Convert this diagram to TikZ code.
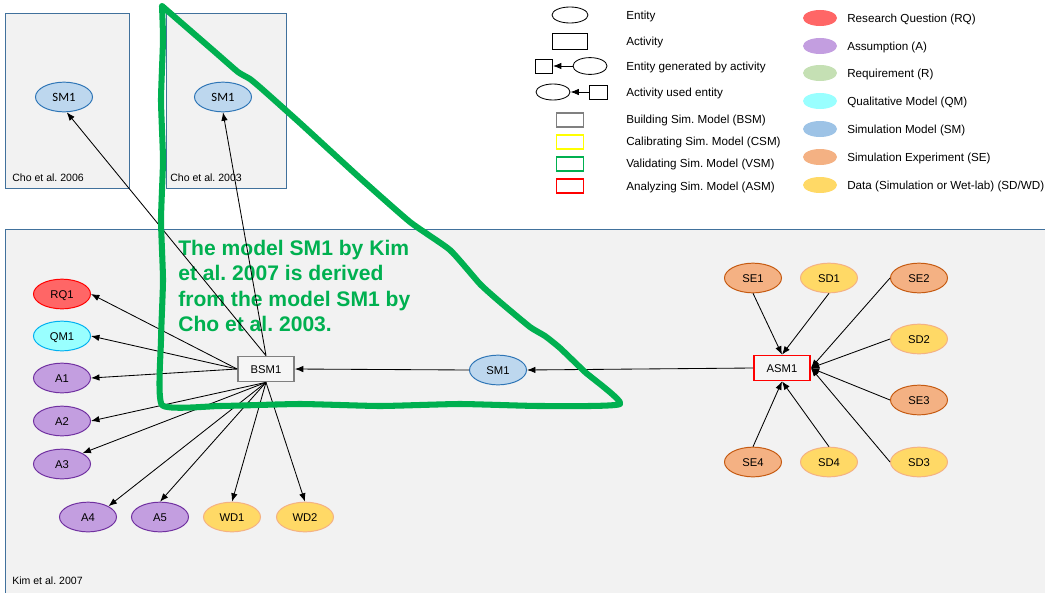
\documentclass[tikz,border=0pt]{standalone}
\usepackage{fontspec}
\setmainfont{Liberation Sans}
\newfontfamily\calibrifont{Carlito}
\usetikzlibrary{shapes.geometric,arrows.meta}

\tikzset{
    panel/.style={draw={rgb,255:red,65;green,113;blue,156}, fill={rgb,255:red,242;green,242;blue,242}, line width=0.6pt},
    paneltxt/.style={anchor=west, inner sep=0pt, text height=5.5pt, text depth=0pt, font=\fontsize{7.5}{9}\selectfont},
    lgtxt/.style={anchor=west, inner sep=0pt, text height=6pt, text depth=0pt, font=\fontsize{8.3}{10}\selectfont},
    lgent/.style={ellipse, draw, line width=0.6pt, fill=white, minimum width=0.9cm, minimum height=0.4cm, inner sep=0pt},
    lgact/.style={rectangle, draw, line width=0.6pt, fill=white, minimum width=0.875cm, minimum height=0.4cm, inner sep=0pt},
    lgkind/.style={rectangle, draw, line width=1.2pt, fill=white, minimum width=0.675cm, minimum height=0.35cm, inner sep=0pt},
    lgcol/.style={ellipse, minimum width=0.85cm, minimum height=0.4cm, inner sep=0pt},
    ent/.style={ellipse, draw, line width=0.7pt, minimum width=1.425cm, minimum height=0.74cm, inner sep=0pt, text height=5.8pt, text depth=0pt, font=\fontsize{8}{9}\selectfont},
    rqnode/.style={ent, draw={rgb,255:red,255;green,0;blue,0}, fill={rgb,255:red,255;green,102;blue,102}},
    qmnode/.style={ent, draw={rgb,255:red,0;green,176;blue,240}, fill={rgb,255:red,153;green,255;blue,255}},
    anode/.style={ent, draw={rgb,255:red,112;green,48;blue,160}, fill={rgb,255:red,195;green,158;blue,224}},
    smnode/.style={ent, draw={rgb,255:red,46;green,117;blue,182}, fill={rgb,255:red,189;green,215;blue,238}},
    senode/.style={ent, draw={rgb,255:red,197;green,90;blue,17}, fill={rgb,255:red,244;green,177;blue,131}},
    sdnode/.style={ent, draw={rgb,255:red,244;green,177;blue,131}, fill={rgb,255:red,255;green,217;blue,102}},
    actbox/.style={rectangle, draw, line width=1.2pt, fill={rgb,255:red,245;green,245;blue,245}, minimum width=1.4cm, minimum height=0.625cm, inner sep=0pt, text height=5.8pt, text depth=0pt, font=\fontsize{8}{9}\selectfont},
    dep/.style={-{Latex[length=6pt,width=4.6pt]}, line width=0.6pt},
    gline/.style={draw={rgb,255:red,0;green,176;blue,80}, line width=4.3pt, line join=round, line cap=round}
}

\begin{document}
\frenchspacing
\begin{tikzpicture}[x=0.025cm, y=-0.025cm]
    \useasboundingbox (0,0) rectangle (1045,592);

    %panels
    \draw[panel] (5,13) rectangle (129,188);
    \draw[panel] (166,13) rectangle (286,188);
    \draw[panel] (5,229) rectangle (1060,610);
    \node[paneltxt] (lCho6) at (12,178) {Cho et al. 2006};
    \node[paneltxt] (lCho3) at (170,178) {Cho et al. 2003};
    \node[paneltxt] (lKim) at (12,581) {Kim et al. 2007};

    %legend, left
    \node[lgent] (lgEnt) at (570,15) {};
    \node[lgact] (lgAct) at (570,41) {};
    \node[lgact, minimum width=0.425cm, minimum height=0.35cm] (lgGenAct) at (544,66) {};
    \node[lgent, minimum width=0.85cm, minimum height=0.42cm] (lgGenEnt) at (590,66) {};
    \draw[dep] (lgGenEnt) -- (lgGenAct);
    \node[lgent, minimum width=0.85cm] (lgUseEnt) at (553,92) {};
    \node[lgact, minimum width=0.45cm, minimum height=0.35cm] (lgUseAct) at (598,92) {};
    \draw[dep] (lgUseAct) -- (lgUseEnt);
    \node[lgkind, draw={rgb,255:red,128;green,128;blue,128}] (lgBSM) at (570,120) {};
    \node[lgkind, draw={rgb,255:red,255;green,255;blue,0}] (lgCSM) at (570,142) {};
    \node[lgkind, draw={rgb,255:red,0;green,176;blue,80}] (lgVSM) at (570,164) {};
    \node[lgkind, draw={rgb,255:red,255;green,0;blue,0}] (lgASM) at (570,186) {};
    \node[lgtxt] (tEnt) at (626,15) {Entity};
    \node[lgtxt] (tAct) at (626,41) {Activity};
    \node[lgtxt] (tGen) at (626,66) {Entity generated by activity};
    \node[lgtxt] (tUse) at (626,92) {Activity used entity};
    \node[lgtxt] (tBSM) at (626,119) {Building Sim. Model (BSM)};
    \node[lgtxt] (tCSM) at (626,141) {Calibrating Sim. Model (CSM)};
    \node[lgtxt] (tVSM) at (626,163) {Validating Sim. Model (VSM)};
    \node[lgtxt] (tASM) at (626,186) {Analyzing Sim. Model (ASM)};

    %legend, right
    \node[lgcol, fill={rgb,255:red,255;green,102;blue,102}] (lgRQ) at (820,18) {};
    \node[lgcol, fill={rgb,255:red,195;green,158;blue,224}] (lgA) at (820,46) {};
    \node[lgcol, fill={rgb,255:red,197;green,224;blue,180}] (lgR) at (820,73) {};
    \node[lgcol, fill={rgb,255:red,153;green,255;blue,255}] (lgQM) at (820,101) {};
    \node[lgcol, fill={rgb,255:red,157;green,195;blue,230}] (lgSM) at (820,129) {};
    \node[lgcol, fill={rgb,255:red,244;green,177;blue,131}] (lgSE) at (820,157) {};
    \node[lgcol, fill={rgb,255:red,255;green,217;blue,102}] (lgSD) at (820,185) {};
    \node[lgtxt] (tRQ) at (847,18) {Research Question (RQ)};
    \node[lgtxt] (tA) at (847,46) {Assumption (A)};
    \node[lgtxt] (tR) at (847,73) {Requirement (R)};
    \node[lgtxt] (tQM) at (847,101) {Qualitative Model (QM)};
    \node[lgtxt] (tSM) at (847,129) {Simulation Model (SM)};
    \node[lgtxt] (tSE) at (847,157) {Simulation Experiment (SE)};
    \node[lgtxt] (tSD) at (847,185) {Data (Simulation or Wet-lab) (SD/WD)};

    %note
    \node[anchor=north west, inner sep=0pt, align=left, text={rgb,255:red,0;green,176;blue,80}, font=\fontsize{15}{18}\selectfont\bfseries] (note) at (178,240)
        {The model SM1 by Kim\\et al. 2007 is derived\\from the model SM1 by\\Cho et al. 2003.};

    %Cho et al.
    \node[smnode, font=\calibrifont\fontsize{9}{10}\selectfont] (choSMa) at (64,97) {SM1};
    \node[smnode, font=\calibrifont\fontsize{9}{10}\selectfont] (choSMb) at (223,97) {SM1};

    %Kim et al. 2007, building
    \node[rqnode] (RQ1) at (62,294) {RQ1};
    \node[qmnode] (QM1) at (62,336) {QM1};
    \node[anode] (A1) at (62,378) {A1};
    \node[anode] (A2) at (62,421) {A2};
    \node[anode] (A3) at (62,464) {A3};
    \node[anode] (A4) at (88,517) {A4};
    \node[anode] (A5) at (160,517) {A5};
    \node[sdnode] (WD1) at (232,517) {WD1};
    \node[sdnode] (WD2) at (305,517) {WD2};
    \node[actbox, draw={rgb,255:red,128;green,128;blue,128}] (BSM1) at (266,369) {BSM1};
    \node[smnode] (SMk) at (498,370) {SM1};

    %Kim et al. 2007, analyzing
    \node[actbox, draw={rgb,255:red,255;green,0;blue,0}] (ASM1) at (782,368) {ASM1};
    \node[senode] (SE1) at (753,278) {SE1};
    \node[sdnode] (SD1) at (829,278) {SD1};
    \node[senode] (SE2) at (919,278) {SE2};
    \node[sdnode] (SD2) at (919,339) {SD2};
    \node[senode] (SE3) at (919,400) {SE3};
    \node[sdnode] (SD3) at (919,462) {SD3};
    \node[senode] (SE4) at (753,462) {SE4};
    \node[sdnode] (SD4) at (829,462) {SD4};

    %edges
    \draw[dep] (BSM1.west) -- (RQ1.east);
    \draw[dep] (BSM1.west) -- (QM1.east);
    \draw[dep] (BSM1.west) -- (A1.east);
    \draw[dep] (BSM1.south) -- (A2.east);
    \draw[dep] (BSM1.south) -- (A3.north east);
    \draw[dep] (BSM1.south) -- (A4.north east);
    \draw[dep] (BSM1.south) -- (A5.north);
    \draw[dep] (BSM1.south) -- (WD1.north);
    \draw[dep] (BSM1.south) -- (WD2.north);
    \draw[dep] (BSM1.north) -- (choSMa.-80);
    \draw[dep] (BSM1.north) -- (choSMb.south);
    \draw[dep] (SMk.west) -- (BSM1.east);
    \draw[dep] (ASM1.west) -- (SMk.east);
    \draw[dep] (SE1.south) -- (ASM1.north);
    \draw[dep] (SD1.south) -- (ASM1.north);
    \draw[dep] (SE2.west) -- (ASM1.east);
    \draw[dep] (SD2.west) -- (ASM1.east);
    \draw[dep] (SE3.west) -- (ASM1.east);
    \draw[dep] (SD3.west) -- (ASM1.east);
    \draw[dep] (SE4.north) -- (ASM1.south);
    \draw[dep] (SD4.north) -- (ASM1.south);

    %hand drawn triangle
    \draw[gline] plot[smooth, tension=0.3] coordinates {(162,6) (163,40) (161,100) (163,160) (161,220) (163,280) (161,340) (162,405) (220,406) (300,404) (380,406) (460,404) (540,406) (620,404) (585,372) (560,348) (545,336) (530,327) (500,302) (480,284) (450,250) (410,222) (360,178) (300,123) (262,89) (250,79) (238,72) (215,52) (162,6)};
\end{tikzpicture}
\end{document}
